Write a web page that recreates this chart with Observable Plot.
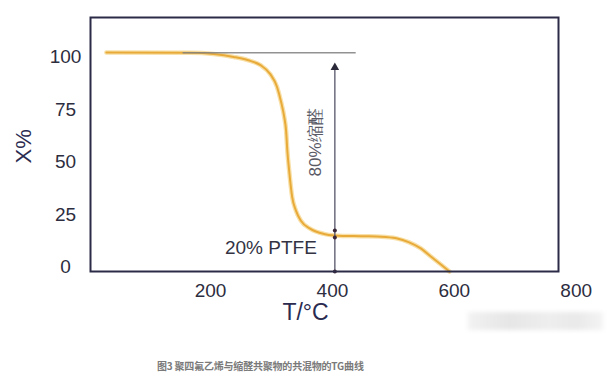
<!DOCTYPE html>
<html>
<head>
<meta charset="utf-8">
<script src="https://cdn.jsdelivr.net/npm/d3@7"></script>
<script src="https://cdn.jsdelivr.net/npm/@observablehq/plot@0.6"></script>
<style>
  body { margin: 0; background: #fff; }
  #wrap { position: relative; width: 616px; height: 374px; overflow: hidden; background: #fff; }
  #caption { position: absolute; left: 157px; top: 359px; font: bold 10px "Noto Sans CJK SC", sans-serif; color: #7a7a7a; line-height: 14px; white-space: nowrap; letter-spacing: -0.2px; }
  #wm { position: absolute; left: 468px; top: 312px; width: 135px; height: 18px; background: linear-gradient(90deg, #f2f2f2, #e6e6e6 30%, #eeeeee 60%, #e9e9e9 80%, #f4f4f4); filter: blur(2px); }
</style>
</head>
<body>
<div id="wrap">
  <div id="chart"></div>
  <div id="wm"></div>
  <div id="caption">图3 聚四氟乙烯与缩醛共聚物的共混物的TG曲线</div>
</div>
<script>
// Temperature (°C) and mass fraction X (%)
const temps = [29, 167, 205, 238, 262, 282, 298, 309, 316, 321, 324, 326, 329, 334, 340, 348, 364, 386, 403, 447, 480, 505, 525, 545, 562, 578, 592];
const xPct  = [102.3, 102.2, 101.6, 100.2, 98.6, 96.3, 92.0, 86.0, 78.5, 71.5, 65.0, 55.6, 46.1, 33.4, 27.1, 22.3, 18.3, 15.9, 15.2, 14.8, 14.6, 13.8, 12.0, 9.0, 5.0, 1.3, -2];

// Reference line at the initial plateau
const refLineT = [155, 439];
const refLineX = [102.2];

// Double arrow marking the 80% step
const arrowT = [404];
const arrowX = [-2, 95.2];
const arrowMarks = [17.5, 14.2, -2];

// Axes
const xDomain = [3, 771];
const yDomain = [-2, 119];
const xTicks = [200, 400, 600, 800];
const yTicks = [0, 25, 50, 75, 100];

// Annotations
const annoText = ["80%缩醛", "20% PTFE"];
const annoT = [372, 299];
const annoX = [59.5, 9.4];

const curveData = temps.map((t, i) => ({T: t, X: xPct[i]}));
const annos = annoText.map((s, i) => ({text: s, T: annoT[i], X: annoX[i]}));

const ink = "#2d2d40";

const chart = Plot.plot({
  width: 616,
  height: 340,
  marginLeft: 90,
  marginRight: 58,
  marginTop: 17,
  marginBottom: 69,
  x: {domain: xDomain, axis: null},
  y: {domain: yDomain, axis: null},
  style: {fontFamily: "'Liberation Sans', Arial, sans-serif", background: "transparent", overflow: "visible"},
  marks: [
    Plot.line(curveData, {x: "T", y: "X", stroke: "#f8e0a8", strokeWidth: 4.5, curve: "monotone-x"}),
    Plot.line(curveData, {x: "T", y: "X", stroke: "#e8ab3a", strokeWidth: 2, curve: "monotone-x"}),
    Plot.ruleY(refLineX, {x1: refLineT[0], x2: refLineT[1], stroke: "#7f7f7f", strokeWidth: 1.5, strokeOpacity: 0.85}),
    Plot.ruleX(arrowT, {y1: arrowX[0], y2: arrowX[1], stroke: "#55556a", strokeWidth: 1.3}),
    Plot.dot(arrowT, {x: d => d, y: () => arrowX[1], symbol: "triangle", r: 3.2, fill: "#2a2a3a"}),
    Plot.dot(arrowMarks, {x: () => arrowT[0], y: d => d, r: 2, fill: "#3a2636"}),
    Plot.frame({stroke: "#2b2b48", strokeWidth: 2}),
    Plot.text(annos.slice(0, 1), {x: "T", y: "X", text: "text", rotate: -90, fontSize: 17, fill: "#5a5a66"}),
    Plot.text(annos.slice(1), {x: "T", y: "X", text: "text", fontSize: 19, fill: "#333344"}),
    Plot.text(xTicks, {x: d => d, frameAnchor: "bottom", dy: 25, fontSize: 19, fill: ink}),
    Plot.text(yTicks, {y: d => d, frameAnchor: "left", dx: -25, textAnchor: "middle", fontSize: 19, fill: ink}),
    Plot.text(["T/°C"], {frameAnchor: "bottom", dx: -19, dy: 48, fontSize: 23, fill: "#2b2b50"}),
    Plot.text(["X%"], {frameAnchor: "left", dx: -67, dy: 19, rotate: -90, fontSize: 22, fill: "#2b2b50"})
  ]
});
document.getElementById("chart").appendChild(chart);
</script>
</body>
</html>
